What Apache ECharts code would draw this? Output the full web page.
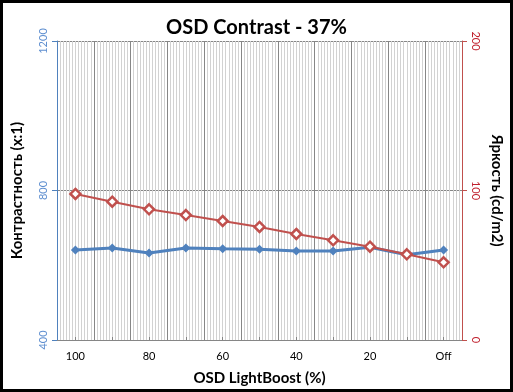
<!DOCTYPE html>
<html><head><meta charset="utf-8">
<script src="https://cdn.jsdelivr.net/npm/echarts@6/dist/echarts.min.js"></script>
<style>html,body{margin:0;padding:0;background:#fff}#c{width:513px;height:392px}</style>
</head><body><div id="c"></div>
<script>
const categories = ['100','90','80','70','60','50','40','30','20','10','Off'];
const contrast = [641, 646, 633, 646, 644, 643, 638, 638, 648, 628, 641];
const brightness = [97.7, 92.5, 87.4, 83.6, 79.6, 75.6, 70.9, 66.7, 62.4, 57.3, 52];
const leftTicks = [400, 800, 1200];
const rightTicks = [0, 100, 200];

const chart = echarts.init(document.getElementById('c'), null, {renderer:'canvas'});
const FONT = 'Lato';
chart.setOption({
  animation:false,
  backgroundColor:'#fff',
  title:{text:'OSD Contrast - 37%', left:'center', top:13, textStyle:{fontFamily:FONT, fontWeight:'bold', fontSize:20, color:'#000'}},
  grid:{left:57, right:51, top:41, bottom:52},
  graphic:[{type:'rect', shape:{x:1.5,y:1.5,width:510,height:389}, style:{fill:'none', stroke:'#000', lineWidth:3}, z:100}],
  xAxis:[{
    type:'category', data:categories, boundaryGap:true,
    axisLine:{show:true, lineStyle:{color:'#868686', width:1}},
    axisTick:{show:true, inside:true, alignWithLabel:true, interval:0, length:3, lineStyle:{color:'#868686'}},
    axisLabel:{interval:1, color:'#000', fontFamily:FONT, fontSize:11, margin:11},
    splitLine:{show:false},
    name:'OSD LightBoost (%)', nameLocation:'middle', nameGap:31,
    nameTextStyle:{fontFamily:FONT, fontWeight:'bold', fontSize:15, color:'#000'}
  },{
    type:'value', min:0, max:11, interval:1, position:'top',
    axisLine:{show:false}, axisTick:{show:false}, axisLabel:{show:false},
    splitLine:{show:true, lineStyle:{color:'#868686', width:1}},
    minorTick:{show:false, splitNumber:12},
    minorSplitLine:{show:true, lineStyle:{color:'#d2d2d2', width:1}}
  }],
  yAxis:[{
    type:'value', position:'left', min:leftTicks[0], max:leftTicks[leftTicks.length-1], interval:400,
    axisLine:{show:true, lineStyle:{color:'#4f81bd', width:1}},
    axisTick:{show:true, length:5, lineStyle:{color:'#4f81bd'}},
    axisLabel:{rotate:90, color:'#5f8fd0', fontFamily:FONT, fontSize:11, margin:8, formatter:v=>String(v)},
    splitLine:{show:true, lineStyle:{color:'#868686', width:1}},
    name:'Контрастность (x:1)', nameLocation:'middle', nameGap:32,
    nameTextStyle:{fontFamily:FONT, fontWeight:'bold', fontSize:15, color:'#000'}
  },{
    type:'value', position:'right', min:rightTicks[0], max:rightTicks[rightTicks.length-1], interval:100,
    axisLine:{show:true, lineStyle:{color:'#c0504d', width:1}},
    axisTick:{show:true, length:5, lineStyle:{color:'#c0504d'}},
    axisLabel:{rotate:-90, color:'#c0202d', fontFamily:FONT, fontSize:11, margin:8, formatter:v=>String(v)},
    splitLine:{show:false},
    name:'Яркость (cd/m2)', nameLocation:'middle', nameGap:19, nameRotate:-90,
    nameTextStyle:{fontFamily:FONT, fontWeight:'bold', fontSize:15, color:'#000'}
  }],
  series:[{
    type:'line', name:'Контрастность', xAxisIndex:0, yAxisIndex:0, data:contrast,
    symbol:'diamond', symbolSize:9, showAllSymbol:true,
    lineStyle:{color:'#4f81bd', width:3}, itemStyle:{color:'#4f81bd'}, z:3
  },{
    type:'line', name:'Яркость', xAxisIndex:0, yAxisIndex:1, data:brightness,
    symbol:'diamond', symbolSize:10, showAllSymbol:true,
    lineStyle:{color:'#c0504d', width:2}, itemStyle:{color:'#fff', borderColor:'#c0504d', borderWidth:2.5}, z:4
  }]
});
</script></body></html>
